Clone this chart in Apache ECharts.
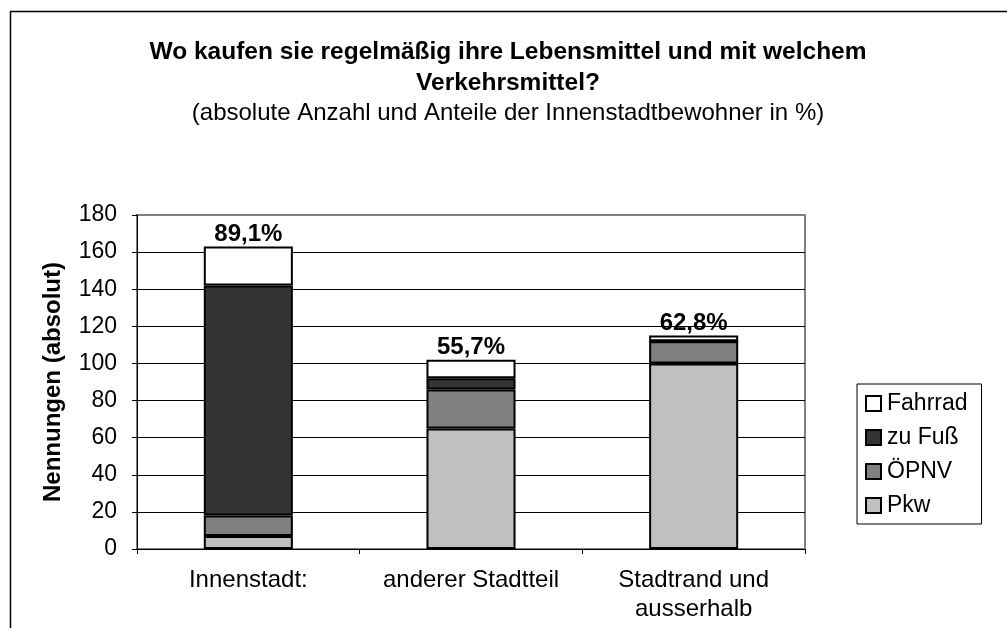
<!DOCTYPE html>
<html>
<head>
<meta charset="utf-8">
<script src="https://cdn.jsdelivr.net/npm/echarts@6/dist/echarts.min.js"></script>
<style>
  html, body { margin: 0; padding: 0; background: #fff; }
  #chart { width: 1007px; height: 628px; }
</style>
</head>
<body>
<div id="chart"></div>
<script>
// Kategorien (x-Achse)
const categories = ['Innenstadt:', 'anderer Stadtteil', 'Stadtrand und\nausserhalb']
// Nennungen je Verkehrsmittel (absolut)
const pkw = [7, 65, 100]
const oepnv = [11, 21, 12]
const zuFuss = [124, 6, 0]
const fahrrad = [21, 10, 3]
// Anteile der Innenstadtbewohner
const anteile = ['89,1%', '55,7%', '62,8%']
const yTicks = { min: 0, max: 180, interval: 20 }

const fontFamily = '"Liberation Sans", Arial, sans-serif'

function barSeries(name, data, color) {
  return {
    name: name,
    type: 'bar',
    stack: 'total',
    barWidth: '40%',
    data: data,
    itemStyle: {
      color: color,
      borderColor: '#000',
      borderWidth: 2,
    },
  }
}

const topSeries = barSeries('Fahrrad', fahrrad, '#ffffff')
topSeries.label = {
  show: true,
  position: 'top',
  distance: 0,
  formatter: (p) => anteile[p.dataIndex],
  fontFamily: fontFamily,
  fontSize: 24,
  fontWeight: 'bold',
  color: '#000',
}

const option = {
  animation: false,
  backgroundColor: '#fff',
  textStyle: { fontFamily: fontFamily },
  title: {
    text: 'Wo kaufen sie regelmäßig ihre Lebensmittel und mit welchem\nVerkehrsmittel?',
    subtext: '(absolute Anzahl und Anteile der Innenstadtbewohner in %)',
    left: 508,
    textAlign: 'center',
    top: 37,
    itemGap: 0,
    padding: 0,
    textStyle: {
      fontFamily: fontFamily,
      fontSize: 24.5,
      fontWeight: 'bold',
      color: '#000',
      lineHeight: 31,
    },
    subtextStyle: {
      fontFamily: fontFamily,
      fontSize: 24,
      color: '#000',
      lineHeight: 28,
    },
  },
  legend: {
    orient: 'vertical',
    left: 857,
    top: 384,
    padding: [8, 14, 7, 8],
    itemGap: 11,
    itemWidth: 15,
    itemHeight: 15,
    borderColor: '#000',
    borderWidth: 1,
    data: ['Fahrrad', 'zu Fuß', 'ÖPNV', 'Pkw'],
    icon: 'rect',
    textStyle: { fontFamily: fontFamily, fontSize: 23, color: '#000', padding: [0, 0, 0, 1] },
  },
  grid: {
    left: 137,
    right: 202,
    top: 215,
    bottom: 79,
    show: true,
    borderColor: '#808080',
    borderWidth: 2,
  },
  xAxis: {
    type: 'category',
    data: categories,
    axisLine: { lineStyle: { color: '#000', width: 1 } },
    axisTick: { show: true, length: 5, lineStyle: { color: '#000' } },
    axisLabel: {
      interval: 0,
      hideOverlap: false,
      color: '#000',
      fontSize: 24,
      lineHeight: 29,
      margin: 17,
      fontFamily: fontFamily,
    },
    splitLine: { show: false },
  },
  yAxis: {
    type: 'value',
    min: yTicks.min,
    max: yTicks.max,
    interval: yTicks.interval,
    name: 'Nennungen (absolut)',
    nameLocation: 'middle',
    nameGap: 72,
    nameTextStyle: {
      fontFamily: fontFamily,
      fontSize: 24,
      fontWeight: 'bold',
      color: '#000',
    },
    axisLine: { show: true, lineStyle: { color: '#000', width: 1 } },
    axisTick: { show: true, length: 5, lineStyle: { color: '#000' } },
    axisLabel: { color: '#000', fontSize: 23, margin: 20, fontFamily: fontFamily },
    splitLine: {
      show: true,
      showMinLine: false,
      showMaxLine: false,
      lineStyle: { color: '#000', width: 1 },
    },
  },
  graphic: [
    {
      type: 'rect',
      left: 8,
      top: 9,
      shape: { width: 1010, height: 630 },
      style: { fill: 'none', stroke: '#000', lineWidth: 1.5 },
      silent: true,
      z: 100,
    },
  ],
  series: [
    barSeries('Pkw', pkw, '#c0c0c0'),
    barSeries('ÖPNV', oepnv, '#808080'),
    barSeries('zu Fuß', zuFuss, '#333333'),
    topSeries,
  ],
}

const myChart = echarts.init(document.getElementById('chart'), null, { renderer: 'canvas' })
myChart.setOption(option)
</script>
</body>
</html>
